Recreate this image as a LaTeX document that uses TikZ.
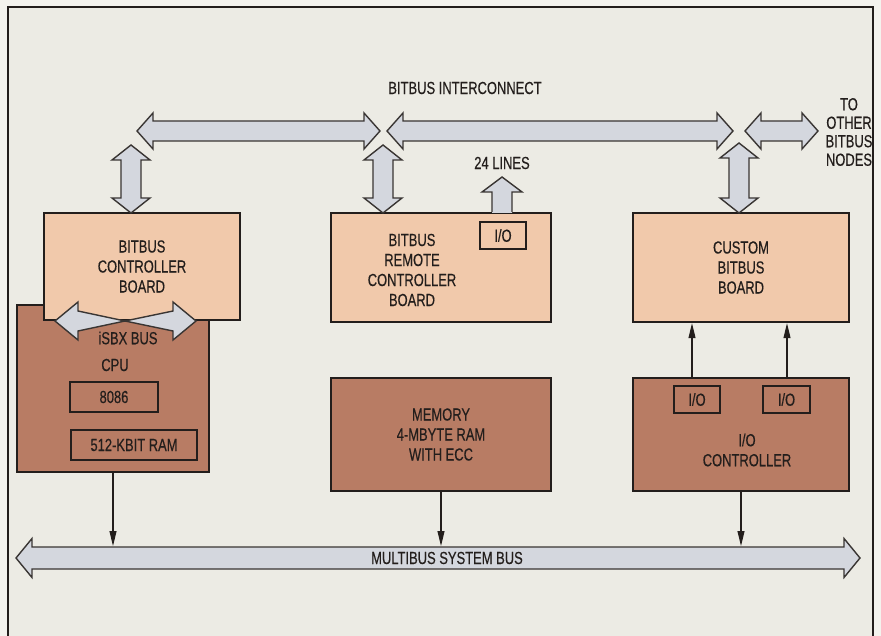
\documentclass[tikz,border=0pt]{standalone}
\usepackage{fontspec}
\setmainfont{Liberation Sans}[FakeStretch=0.74,FakeBold=0.35]
\usetikzlibrary{arrows.meta}
\definecolor{bg}{RGB}{236,235,228}
\definecolor{paper}{RGB}{244,243,238}
\definecolor{peach}{RGB}{241,201,171}
\definecolor{brownbox}{RGB}{184,124,100}
\definecolor{busfill}{RGB}{212,215,222}
\definecolor{ink}{RGB}{35,30,28}
\newcommand\hdbl[6]{\draw[bus] (#1,#3) -- ({#1+#6},{#3-#5}) -- ({#1+#6},{#3-#4}) -- ({#2-#6},{#3-#4}) -- ({#2-#6},{#3-#5}) -- (#2,#3) -- ({#2-#6},{#3+#5}) -- ({#2-#6},{#3+#4}) -- ({#1+#6},{#3+#4}) -- ({#1+#6},{#3+#5}) -- cycle;}
\newcommand\vdbl[6]{\draw[bus] (#1,#2) -- ({#1-#5},{#2+#6}) -- ({#1-#4},{#2+#6}) -- ({#1-#4},{#3-#6}) -- ({#1-#5},{#3-#6}) -- (#1,#3) -- ({#1+#5},{#3-#6}) -- ({#1+#4},{#3-#6}) -- ({#1+#4},{#2+#6}) -- ({#1+#5},{#2+#6}) -- cycle;}
\begin{document}
\begin{tikzpicture}[x=1pt,y=-1pt,
  txt/.style={font=\fontsize{17.5}{20}\selectfont, text=ink},
  lbl/.style={txt, align=center, inner sep=0pt},
  board/.style={txt, draw=ink, line width=2.4pt, fill=peach, inner sep=0pt, align=center},
  unit/.style={txt, draw=ink, line width=2.4pt, fill=brownbox, inner sep=0pt, align=center},
  sub/.style={txt, draw=ink, line width=1.1pt, inner sep=0pt},
  bus/.style={draw=ink!90, line width=1.4pt, fill=busfill, line join=miter},
  sig/.style={draw=ink, line width=1.1pt, -{Triangle[width=7pt,length=15pt]}}]
\useasboundingbox (0,0) rectangle (881,636);
\fill[paper] (0,0) rectangle (881,636);
\fill[bg] (8,7) rectangle (873,636);
\draw[ink, line width=2pt] (8,640) -- (8,7) -- (873,7) -- (873,640);

% boxes
\node[unit, minimum width=192pt, minimum height=167pt] (cpu) at (113,388.5) {};
\node[board, minimum width=196pt, minimum height=107pt] (bcb) at (142,266.5) {BITBUS\\CONTROLLER\\BOARD};
\node[board, minimum width=220pt, minimum height=109pt] (rcb) at (441,267.5) {};
\node[unit, minimum width=220pt, minimum height=113pt] (mem) at (441,434.5) {MEMORY\\4-MBYTE RAM\\WITH ECC};
\node[board, minimum width=216pt, minimum height=109pt] (cbb) at (741,267.5) {CUSTOM\\BITBUS\\BOARD};
\node[unit, minimum width=216pt, minimum height=113pt] (ioc) at (741,434.5) {};

% inner boxes
\node[sub, minimum width=88pt, minimum height=30pt] (p8086) at (114,397) {8086};
\node[sub, minimum width=126pt, minimum height=30pt] (ram) at (134,445) {512-KBIT RAM};
\node[sub, minimum width=46pt, minimum height=27pt] (rio) at (503,235.5) {I/O};
\node[sub, minimum width=46pt, minimum height=27pt] (io1) at (697,399.5) {I/O};
\node[sub, minimum width=47pt, minimum height=27pt] (io2) at (786.5,399.5) {I/O};

% texts
\node[lbl] (rcbt) at (412,270) {BITBUS\\REMOTE\\CONTROLLER\\BOARD};
\node[lbl] (ioct) at (747,450) {I/O\\CONTROLLER};
\node[lbl] (cput) at (115,365) {CPU};
\node[lbl] (isbx) at (128,338) {iSBX BUS};
\node[lbl] (bbi) at (465,88) {BITBUS INTERCONNECT};
\node[lbl] (l24) at (502,163) {24 LINES};
\node[lbl, font=\fontsize{17.5}{18.5}\selectfont] (other) at (849,132) {TO\\OTHER\\BITBUS\\NODES};

% bitbus interconnect
\hdbl{137}{380}{131}{10}{18}{16}
\hdbl{387}{733}{131}{10}{18}{16}
\hdbl{745}{818}{131}{10}{18}{16}
\vdbl{131}{145}{213}{10}{19}{15}
\vdbl{383}{145}{213}{10}{19}{15}
\vdbl{739}{143}{213}{10}{19}{15}

% 24 lines
\fill[busfill] (492,213) -- (492,192) -- (482,192) -- (502,177) -- (522,192) -- (512,192) -- (512,213) -- cycle;
\draw[bus, fill=none] (492,212) -- (492,192) -- (482,192) -- (502,177) -- (522,192) -- (512,192) -- (512,212);

% iSBX bus bowtie
\draw[bus] (125,321) -- (78,311) -- (78,302) -- (55,321) -- (78,340) -- (78,331) -- (125,321) -- (173,331) -- (173,340) -- (196,321) -- (173,302) -- (173,311) -- cycle;

% multibus
\hdbl{16}{860}{558}{11}{19.5}{16}
\node[lbl] (mbt) at (447,558) {MULTIBUS SYSTEM BUS};

% signal arrows
\coordinate (mbtop) at (0,546);
\coordinate (ioA) at (692,0);
\coordinate (ioB) at (787,0);
\draw[sig] (cpu.south) -- (cpu.south |- mbtop);
\draw[sig] (mem.south) -- (mem.south |- mbtop);
\draw[sig] (ioc.south) -- (ioc.south |- mbtop);
\draw[sig] (ioc.north -| ioA) -- (cbb.south -| ioA);
\draw[sig] (ioc.north -| ioB) -- (cbb.south -| ioB);
\end{tikzpicture}
\end{document}
